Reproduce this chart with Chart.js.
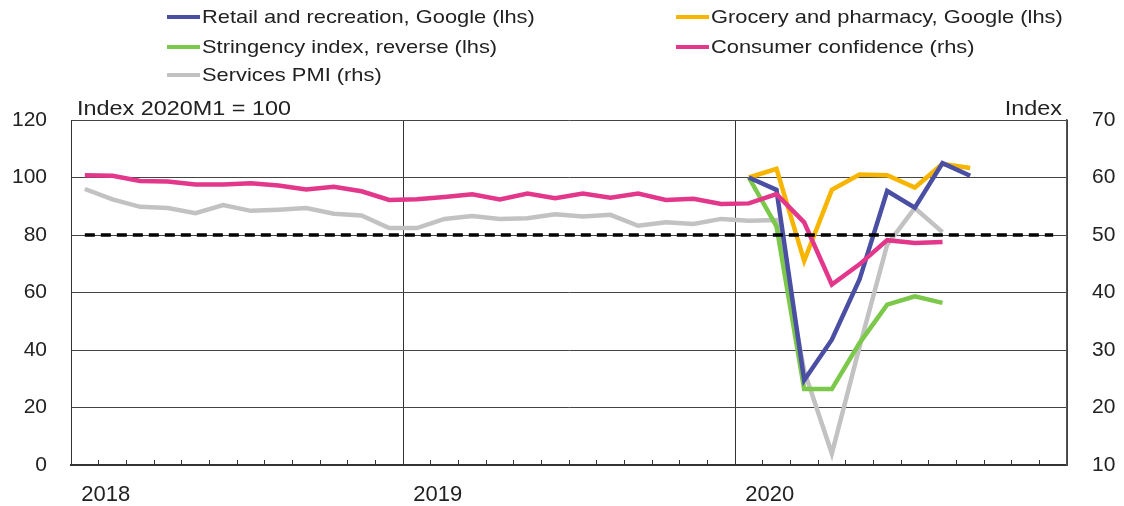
<!DOCTYPE html>
<html><head><meta charset="utf-8">
<script src="https://cdn.jsdelivr.net/npm/chart.js@4.4.1/dist/chart.umd.min.js"></script>
<style>
html,body{margin:0;padding:0;background:#fff;}
#wrap{position:relative;width:1124px;height:506px;overflow:hidden;font-family:"Liberation Sans",Arial,sans-serif;color:#222;}
canvas{position:absolute;left:0;top:0;}
.leg{position:absolute;height:24px;display:flex;align-items:center;white-space:nowrap;}
.sw{display:inline-block;width:33px;height:4px;margin-right:2px;flex:none;}
.lt{display:inline-block;font-size:19px;line-height:24px;transform:scaleX(1.15);transform-origin:left center;}
.unit{position:absolute;font-size:20px;line-height:20px;white-space:nowrap;}
</style></head><body>
<div id="wrap">
<canvas id="c" width="1124" height="506"></canvas>
<div class="unit" id="uL" style="left:77px;top:98px;transform:scaleX(1.17);transform-origin:left top;"></div>
<div class="unit" id="uR" style="right:62px;top:98px;transform:scaleX(1.17);transform-origin:right top;"></div>
</div>
<script>
// ---- categories ----
const months = ['2018-01','2018-02','2018-03','2018-04','2018-05','2018-06','2018-07','2018-08','2018-09','2018-10','2018-11','2018-12',
                '2019-01','2019-02','2019-03','2019-04','2019-05','2019-06','2019-07','2019-08','2019-09','2019-10','2019-11','2019-12',
                '2020-01','2020-02','2020-03','2020-04','2020-05','2020-06','2020-07','2020-08','2020-09','2020-10','2020-11','2020-12'];
const yearTickLabels = ['2018','2019','2020'];
const leftUnit = 'Index 2020M1 = 100';
const rightUnit = 'Index';

// ---- series (lhs) ----
const retailRecreation = [null,null,null,null,null,null,null,null,null,null,null,null,
                          null,null,null,null,null,null,null,null,null,null,null,null,
                          100,95.7,29.5,43.6,64.5,95.3,89.5,105,100.6,null,null,null];
const groceryPharmacy  = [null,null,null,null,null,null,null,null,null,null,null,null,
                          null,null,null,null,null,null,null,null,null,null,null,null,
                          100,103,71,95.7,101,100.8,96.5,104.7,103.3,null,null,null];
const stringencyReverse = [null,null,null,null,null,null,null,null,null,null,null,null,
                          null,null,null,null,null,null,null,null,null,null,null,null,
                          100,83,26.4,26.4,42.4,55.8,58.7,56.4,null,null,null,null];
// ---- series (rhs) ----
const consumerConfidence = [60.4,60.3,59.4,59.3,58.8,58.8,59.0,58.6,57.9,58.4,57.6,56.1,
                            56.2,56.6,57.1,56.2,57.2,56.4,57.2,56.5,57.2,56.1,56.3,55.4,
                            55.5,57.1,52.2,41.4,44.9,49.1,48.6,48.8,null,null,null,null];
const servicesPMI = [58.0,56.2,54.9,54.7,53.8,55.2,54.2,54.4,54.7,53.7,53.4,51.2,
                     51.2,52.8,53.3,52.8,52.9,53.6,53.2,53.5,51.6,52.2,51.9,52.8,
                     52.5,52.6,26.4,12.0,30.5,48.3,54.7,50.5,null,null,null,null];
const pmiNeutral = 50;

const seriesNames = ['Retail and recreation, Google (lhs)','Grocery and pharmacy, Google (lhs)',
                     'Stringency index, reverse (lhs)','Consumer confidence (rhs)','Services PMI (rhs)'];

// ---- styles ----
const colours = ['#4a4fa3','#f7b500','#7cc84a','#e2378a','#c2c2c2'];
const FONT = '"Liberation Sans", Arial, sans-serif';

document.getElementById('uL').textContent = leftUnit;
document.getElementById('uR').textContent = rightUnit;

// legend (HTML)
const legPos = [[167,5],[676,5],[167,35],[676,35],[167,63]];
const wrap = document.getElementById('wrap');
seriesNames.forEach((n,i)=>{
  const d = document.createElement('div');
  d.className='leg';
  d.style.left = legPos[i][0]+'px'; d.style.top = legPos[i][1]+'px';
  const s = document.createElement('span'); s.className='sw'; s.style.background = colours[i];
  const t = document.createElement('span'); t.className='lt'; t.textContent = n;
  d.appendChild(s); d.appendChild(t); wrap.appendChild(d);
});

const seriesData = [retailRecreation, groceryPharmacy, stringencyReverse, consumerConfidence, servicesPMI];
const axisIds = ['y','y','y','y1','y1'];
const drawOrder = [3,4,5,2,6];
const datasets = seriesData.map((d,i)=>({
  label: seriesNames[i], data: d, yAxisID: axisIds[i], borderColor: colours[i], backgroundColor: colours[i],
  borderWidth: 4.5, pointRadius: 0, tension: 0, fill:false, order: drawOrder[i], spanGaps:false
}));
datasets.push({
  label:'PMI 50', data: months.map(()=>pmiNeutral), yAxisID:'y1', borderColor:'#000', borderWidth:3.5,
  borderDash:[10,6], pointRadius:0, tension:0, fill:false, order:0
});

new Chart(document.getElementById('c'), {
  type:'line',
  data:{labels: months, datasets},
  options:{
    responsive:false, animation:false, devicePixelRatio:1,
    layout:{padding:{top:120,left:0,right:0,bottom:0}},
    plugins:{legend:{display:false}, tooltip:{enabled:false}, title:{display:false}},
    elements:{line:{borderJoinStyle:'miter', borderCapStyle:'butt'}},
    scales:{
      x:{
        type:'category', offset:true,
        grid:{offset:true, lineWidth:1, drawTicks:true, tickLength:-5, tickColor:'#333', tickWidth:1,
              color:(c)=> (c.index===undefined || c.index%12===0) ? '#333' : 'rgba(0,0,0,0)'},
        border:{display:true, color:'#333', width:2},
        ticks:{autoSkip:false, maxRotation:0, minRotation:0, labelOffset:21, padding:22, color:'#222',
               font:{size:22, family:FONT},
               callback:(v,i)=> (i%12===0) ? yearTickLabels[i/12] : ''},
        afterFit:(s)=>{ s.height = 41; }
      },
      y:{
        position:'left', min:0, max:120,
        ticks:{stepSize:20, padding:24, color:'#222', font:{size:21, family:FONT}},
        grid:{color:'#444', lineWidth:1, drawTicks:false},
        border:{display:true, color:'#333', width:1},
        afterFit:(s)=>{ s.width = 71; }
      },
      y1:{
        position:'right', min:10, max:70,
        ticks:{stepSize:10, padding:25, color:'#222', font:{size:21, family:FONT}},
        grid:{drawOnChartArea:false, drawTicks:false},
        border:{display:true, color:'#555', width:1.5},
        afterFit:(s)=>{ s.width = 57; }
      }
    }
  }
});
</script>
</body></html>
